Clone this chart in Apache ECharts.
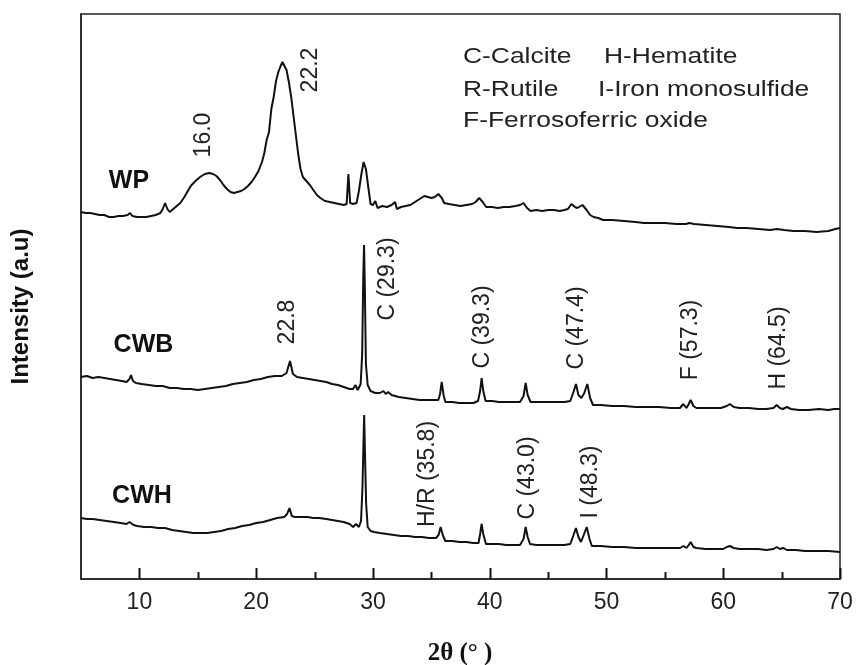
<!DOCTYPE html>
<html>
<head>
<meta charset="utf-8">
<script src="https://cdn.jsdelivr.net/npm/echarts@6/dist/echarts.min.js"></script>
<style>html,body{margin:0;padding:0;background:#fff;}#c{width:857px;height:665px;}</style>
</head>
<body>
<div id="c"></div>
<script>
// ---- data (2θ, arbitrary intensity incl. stacking offset) ----
var wpData = [[5.0,367],[5.4,366],[5.8,366],[6.2,365],[6.6,364],[7.0,364],[7.4,362],[7.8,362],[8.2,363],[8.6,363],[9.0,364],[9.2,366],[9.4,363],[9.8,362],[10.2,362],[10.6,362],[11.0,363],[11.4,364],[11.8,366],[12.0,370],[12.2,376],[12.4,370],[12.6,367],[12.9,370],[13.2,373],[13.5,376],[13.8,381],[14.1,387],[14.4,393],[14.8,398],[15.2,402],[15.6,405],[16.0,406],[16.3,405],[16.6,403],[16.9,399],[17.2,394],[17.5,390],[17.8,387],[18.1,386],[18.4,387],[18.7,388],[19.0,390],[19.3,393],[19.6,397],[19.9,402],[20.2,408],[20.5,417],[20.7,426],[20.9,439],[21.1,447],[21.3,470],[21.5,482],[21.7,498],[21.9,507],[22.1,513],[22.25,517],[22.4,515],[22.6,509],[22.8,497],[23.0,482],[23.2,463],[23.4,444],[23.6,425],[23.8,410],[24.0,402],[24.3,398],[24.6,394],[24.9,389],[25.2,384],[25.5,381],[25.9,378],[26.3,377],[26.7,376],[27.1,375],[27.5,374],[27.75,375],[27.9,405],[28.05,376],[28.3,375],[28.6,376],[28.8,388],[29.0,404],[29.2,417],[29.4,410],[29.6,392],[29.8,375],[30.0,374],[30.2,378],[30.4,371],[30.8,373],[31.2,372],[31.6,374],[31.9,377],[32.05,370],[32.4,372],[32.8,373],[33.2,374],[33.6,377],[34.0,380],[34.4,383],[34.7,382],[35.0,381],[35.3,382],[35.6,385],[35.9,381],[36.1,376],[36.5,375],[37.0,374],[37.5,373],[38.0,374],[38.5,375],[38.8,377],[39.1,381],[39.4,377],[39.7,372],[40.2,372],[40.7,371],[41.2,372],[41.7,372],[42.2,373],[42.6,374],[42.9,376],[43.2,371],[43.5,368],[44.0,369],[44.5,368],[45.0,369],[45.5,369],[46.0,368],[46.4,369],[46.7,370],[47.0,375],[47.3,372],[47.5,371],[47.95,374],[48.3,369],[48.6,364],[48.9,362],[49.3,361],[49.7,359],[50.5,359],[51.5,358],[52.5,357],[53.2,356],[54.0,356],[55.0,356],[56.0,355],[56.8,355],[57.1,356],[57.5,355],[58.5,354],[59.5,353],[60.5,352],[61.2,351],[62.0,351],[63.0,350],[64.0,349],[64.6,350],[65.2,349],[66.0,348],[67.0,348],[68.0,347],[69.0,348],[69.6,350],[70.0,351]];

var cwbData = [[5.0,202],[5.5,203],[6.0,201],[6.5,202],[7.0,201],[7.5,200],[8.0,199],[8.5,198],[8.9,197],[9.15,200],[9.28,204],[9.45,198],[9.7,196],[10.2,195],[10.8,194],[11.4,193],[12.0,193],[12.6,191],[13.2,191],[13.8,190],[14.4,190],[15.0,189],[15.6,190],[16.2,191],[16.8,192],[17.4,193],[18.0,195],[18.6,196],[19.2,197],[19.8,199],[20.4,200],[21.0,202],[21.6,203],[22.2,203],[22.6,206],[22.9,218],[23.15,205],[23.5,202],[24.0,201],[24.5,200],[25.0,199],[25.5,198],[26.0,197],[26.5,195],[27.0,194],[27.5,192],[28.0,190],[28.3,190],[28.5,194],[28.7,189],[28.95,195],[29.08,225],[29.17,300],[29.24,334],[29.31,290],[29.4,215],[29.55,194],[29.8,188],[30.2,186],[30.6,186],[30.9,188],[31.1,185],[31.3,187],[31.6,184],[32.2,182],[32.8,181],[33.4,180],[34.0,179],[34.6,179],[35.2,179],[35.6,179],[35.75,185],[35.89,197],[36.05,184],[36.2,177],[36.8,177],[37.4,176],[38.0,176],[38.6,176],[39.0,178],[39.18,188],[39.31,201],[39.45,188],[39.65,178],[40.2,178],[40.8,177],[41.4,177],[42.0,177],[42.6,177],[42.9,183],[43.08,196],[43.25,184],[43.5,177],[44.0,177],[44.6,177],[45.2,177],[45.8,177],[46.4,177],[46.9,178],[47.15,186],[47.39,195],[47.6,184],[47.85,181],[48.1,186],[48.36,195],[48.6,181],[48.85,174],[49.5,174],[50.5,173],[51.5,173],[52.5,172],[53.5,172],[54.5,172],[55.5,171],[56.3,171],[56.58,175],[56.85,171],[57.05,175],[57.21,179],[57.45,173],[57.7,171],[58.5,171],[59.3,171],[59.8,171],[60.3,173],[60.57,175],[60.9,172],[61.4,171],[62.2,171],[63.0,170],[63.7,170],[64.3,171],[64.58,174],[64.85,171],[65.1,170],[65.45,172],[65.8,170],[66.5,169],[67.3,169],[68.2,170],[69.0,169],[69.5,170],[70.0,170]];

var cwhData = [[5.0,61],[5.5,60],[6.0,60],[6.6,59],[7.2,58],[7.8,57],[8.4,56],[8.9,55],[9.15,57],[9.3,58],[9.5,54],[9.8,53],[10.4,52],[11.0,52],[11.6,51],[12.2,51],[12.8,49],[13.4,48],[14.0,47],[14.6,46],[15.2,46],[15.8,46],[16.4,47],[17.0,48],[17.6,50],[18.2,51],[18.8,53],[19.4,54],[20.0,56],[20.6,57],[21.2,59],[21.8,61],[22.4,62],[22.65,65],[22.85,71],[23.05,63],[23.3,62],[23.8,62],[24.4,62],[24.9,61],[25.4,61],[26.0,60],[26.5,59],[27.0,58],[27.5,57],[28.0,55],[28.3,52],[28.55,55],[28.8,52],[28.98,58],[29.1,90],[29.18,130],[29.25,164],[29.32,125],[29.42,75],[29.55,52],[29.8,48],[30.1,47],[30.6,46],[31.2,45],[31.8,44],[32.4,43],[33.0,43],[33.6,42],[34.2,42],[34.8,41],[35.4,41],[35.62,44],[35.8,52],[35.98,44],[36.2,38],[36.8,38],[37.4,37],[38.0,37],[38.6,36],[39.05,36],[39.18,45],[39.31,55],[39.45,45],[39.68,35],[40.2,35],[40.8,35],[41.4,34],[42.0,34],[42.6,34],[42.9,40],[43.08,52],[43.25,42],[43.45,35],[44.0,34],[44.6,34],[45.2,34],[45.8,34],[46.4,34],[46.9,35],[47.15,43],[47.39,51],[47.6,42],[47.82,37],[48.05,44],[48.31,52],[48.55,40],[48.75,33],[49.5,33],[50.5,32],[51.5,32],[52.5,31],[53.5,31],[54.5,31],[55.5,31],[56.3,31],[56.6,33],[56.85,31],[57.05,34],[57.21,37],[57.45,32],[57.7,31],[58.5,30],[59.3,30],[60.0,30],[60.3,32],[60.57,33],[60.9,31],[61.4,30],[62.2,30],[63.0,30],[63.7,29],[64.3,30],[64.58,32],[64.85,30],[65.15,31],[65.45,29],[66.2,29],[67.0,28],[68.0,28],[69.0,28],[70.0,27]];

var xMajorTicks = [10, 20, 30, 40, 50, 60, 70];   // labelled, long ticks
var xMinorTicks = [15, 25, 35, 45, 55, 65];       // short ticks
var xAxisTitle = '2θ (° )';
var yAxisTitle = 'Intensity (a.u)';

// peak annotations: [2θ, intensity, text]
var peakLabels = [
  [15.53, 444, '16.0'],
  [24.65, 509, '22.2'],
  [22.73, 257, '22.8'],
  [31.29, 300, 'C (29.3)'],
  [39.38, 252, 'C (39.3)'],
  [47.45, 251, 'C (47.4)'],
  [57.24, 239, 'F (57.3)'],
  [64.78, 231, 'H (64.5)'],
  [34.72, 105, 'H/R (35.8)'],
  [43.28, 101, 'C (43.0)'],
  [48.68, 97, 'I (48.3)']
];
var sampleLabels = [
  [9.11, 398, 'WP'],
  [10.35, 234, 'CWB'],
  [10.22, 83, 'CWH']
];
var legendLines = [
  ['C-Calcite', 'H-Hematite'],
  ['R-Rutile', 'I-Iron monosulfide'],
  ['F-Ferrosoferric oxide', '']
];

var X_MIN = 5, X_MAX = 70, Y_MIN = 0, Y_MAX = 565;
var GRID = {left: 81, right: 17, top: 14, bottom: 86};

var chart = echarts.init(document.getElementById('c'), null, {renderer: 'canvas'});

var lineStyle = {color: '#111', width: 2};
function lineSeries(name, data) {
  return {name: name, type: 'line', data: data, showSymbol: false, symbol: 'none',
    lineStyle: lineStyle, smooth: false, silent: true, z: 3};
}

var graphics = [];
var legendLeft = [[463, 604], [463, 598], [463, 0]];
var legendY = [57, 90, 121];
legendLines.forEach(function (row, i) {
  row.forEach(function (txt, j) {
    if (!txt) return;
    graphics.push({
      type: 'text', x: legendLeft[i][j], y: legendY[i], scaleX: 1.2, silent: true,
      style: {text: txt, font: '22px "Liberation Sans", Arial, sans-serif', fill: '#222',
        textAlign: 'left', textVerticalAlign: 'middle', align: 'left', verticalAlign: 'middle'}
    });
  });
});
graphics.push({
  type: 'text', x: 460, y: 654, silent: true,
  style: {text: xAxisTitle, font: 'bold 25px "Liberation Serif", "Times New Roman", serif', fill: '#111',
    textAlign: 'center', textVerticalAlign: 'middle', align: 'center', verticalAlign: 'middle'}
});

var option = {
  animation: false,
  backgroundColor: '#fff',
  grid: {left: GRID.left, right: GRID.right, top: GRID.top, bottom: GRID.bottom, show: true,
    borderColor: '#222', borderWidth: 1.5, backgroundColor: 'transparent'},
  xAxis: {
    type: 'value', min: X_MIN, max: X_MAX,
    axisLine: {show: true, lineStyle: {color: '#222', width: 1.5}},
    axisTick: {show: false},
    axisLabel: {show: true, customValues: xMajorTicks, fontSize: 23, color: '#222', margin: 12,
      fontFamily: '"Liberation Sans", Arial, sans-serif'},
    splitLine: {show: false}
  },
  yAxis: {
    type: 'value', min: Y_MIN, max: Y_MAX,
    name: yAxisTitle, nameLocation: 'middle', nameGap: 48, nameRotate: 90,
    nameTextStyle: {fontFamily: '"Liberation Sans", Arial, sans-serif', fontWeight: 'bold', fontSize: 24, color: '#111',
      padding: [0, 20, 0, 0]},
    axisLine: {show: true, lineStyle: {color: '#222', width: 1.5}},
    axisTick: {show: false}, axisLabel: {show: false}, splitLine: {show: false}
  },
  graphic: graphics,
  series: [
    lineSeries('WP', wpData),
    lineSeries('CWB', cwbData),
    lineSeries('CWH', cwhData),
    {
      type: 'scatter', silent: true, symbolSize: 1, itemStyle: {color: 'rgba(0,0,0,0)', opacity: 1}, z: 5,
      data: peakLabels.map(function (p) { return {value: [p[0], p[1]], name: p[2]}; }),
      label: {show: true, position: 'inside', rotate: 90, formatter: '{b}',
        fontSize: 23, color: '#222', fontFamily: '"Liberation Sans", Arial, sans-serif',
        align: 'center', verticalAlign: 'middle'}
    },
    {
      type: 'scatter', silent: true, symbolSize: 1, itemStyle: {color: 'rgba(0,0,0,0)', opacity: 1}, z: 5,
      data: sampleLabels.map(function (p) { return {value: [p[0], p[1]], name: p[2]}; }),
      label: {show: true, position: 'inside', formatter: '{b}', fontWeight: 'bold',
        fontSize: 25, color: '#111', fontFamily: '"Liberation Sans", Arial, sans-serif',
        align: 'center', verticalAlign: 'middle'}
    }
  ]
};
chart.setOption(option);

// inward tick marks on the bottom axis, positioned through the x scale
function xToPixel(v) {
  var p = null;
  try { p = chart.convertToPixel({gridIndex: 0}, [v, Y_MIN]); } catch (e) { p = null; }
  if (!p || !isFinite(p[0]) || !isFinite(p[1])) {
    var w = chart.getWidth() - GRID.left - GRID.right;
    p = [GRID.left + (v - X_MIN) / (X_MAX - X_MIN) * w, chart.getHeight() - GRID.bottom];
  }
  return p;
}
var tickGraphics = [];
xMajorTicks.forEach(function (v) {
  var p = xToPixel(v);
  tickGraphics.push({type: 'line', z: 100, silent: true,
    shape: {x1: Math.round(p[0]) + 0.5, y1: p[1], x2: Math.round(p[0]) + 0.5, y2: p[1] - 11},
    style: {stroke: '#111', lineWidth: 2}});
});
xMinorTicks.forEach(function (v) {
  var p = xToPixel(v);
  tickGraphics.push({type: 'line', z: 100, silent: true,
    shape: {x1: Math.round(p[0]) + 0.5, y1: p[1], x2: Math.round(p[0]) + 0.5, y2: p[1] - 7},
    style: {stroke: '#111', lineWidth: 2}});
});
chart.setOption({graphic: {elements: graphics.concat(tickGraphics)}});
</script>
</body>
</html>
